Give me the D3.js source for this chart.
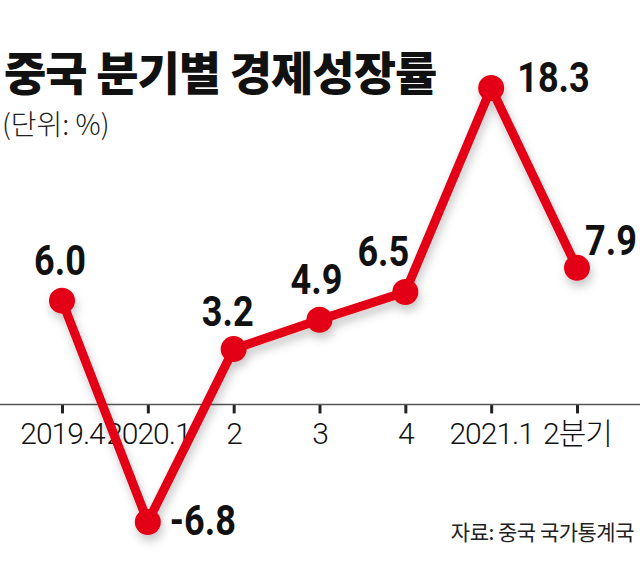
<!DOCTYPE html>
<html>
<head>
<meta charset="utf-8">
<script src="https://cdn.jsdelivr.net/npm/d3@7.9.0/dist/d3.min.js"></script>
<style>
  html, body { margin: 0; padding: 0; background: #fff; }
  svg { display: block; font-family: "Noto Sans CJK KR", "Noto Sans", sans-serif; }
  .tick text { font-family: Roboto, "Noto Sans CJK KR", sans-serif; }
  .vlabel text { font-family: Roboto, "Noto Sans", sans-serif; }
</style>
</head>
<body>
<svg id="chart" width="640" height="583"></svg>
<script>
const quarters = ['2019.4', '2020.1', '2', '3', '4', '2021.1', '2분기'];
const growth = [6.0, -6.8, 3.2, 4.9, 6.5, 18.3, 7.9];
const valueLabels = ['6.0', '-6.8', '3.2', '4.9', '6.5', '18.3', '7.9'];

// where each value label sits relative to its point: [dx, dy, anchor]
const labelPlace = [
  [-2, -26, 'middle'],
  [22, 13, 'start'],
  [-6, -23, 'middle'],
  [-3, -26, 'middle'],
  [-22, -26, 'middle'],
  [26, 4, 'start'],
  [8, -13, 'start']
];

const red = '#e30613';
const svg = d3.select('#chart');

const x = d3.scalePoint().domain(quarters).range([62, 577]);
const y = d3.scaleLinear().domain([-6.8, 18.3]).range([522, 88]);

const defs = svg.append('defs');
const shadow = defs.append('filter')
  .attr('id', 'shadow')
  .attr('x', '-20%').attr('y', '-20%')
  .attr('width', '140%').attr('height', '140%');
shadow.append('feDropShadow')
  .attr('dx', 2).attr('dy', 6)
  .attr('stdDeviation', 5)
  .attr('flood-color', '#000')
  .attr('flood-opacity', 0.22);

// title
svg.append('text')
  .attr('x', 4).attr('y', 90)
  .attr('font-size', 46)
  .attr('font-weight', 900)
  .attr('letter-spacing', -1)
  .attr('fill', '#111')
  .text('중국 분기별 경제성장률');

svg.append('text')
  .attr('x', 2).attr('y', 135)
  .attr('font-size', 28)
  .attr('font-weight', 300)
  .attr('fill', '#222')
  .text('(단위: %)');

// axis
const axis = d3.axisBottom(x).tickSize(9).tickPadding(9);
const gx = svg.append('g')
  .attr('transform', `translate(0,${y(0)})`)
  .call(axis)
  .attr('font-family', null);
gx.select('.domain').remove();
gx.selectAll('.tick line').attr('stroke', '#222').attr('stroke-width', 3);
gx.selectAll('.tick text')
  .attr('font-size', 30)
  .attr('font-weight', 300)
  .attr('letter-spacing', -1)
  .attr('fill', '#111');

svg.append('line')
  .attr('x1', 0).attr('x2', 640)
  .attr('y1', y(0)).attr('y2', y(0))
  .attr('stroke', '#555')
  .attr('stroke-width', 1.5);

// line + dots
const series = growth.map((v, i) => ({ q: quarters[i], v, label: valueLabels[i], place: labelPlace[i] }));

const line = d3.line().x((d) => x(d.q)).y((d) => y(d.v));

const marks = svg.append('g').attr('filter', 'url(#shadow)');
marks.append('path')
  .datum(series)
  .attr('d', line)
  .attr('fill', 'none')
  .attr('stroke', red)
  .attr('stroke-width', 9)
  .attr('stroke-linejoin', 'round');

marks.selectAll('circle')
  .data(series)
  .join('circle')
  .attr('cx', (d) => x(d.q))
  .attr('cy', (d) => y(d.v))
  .attr('r', 13)
  .attr('fill', red);

// value labels
svg.selectAll('g.vlabel')
  .data(series)
  .join('g')
  .attr('class', 'vlabel')
  .attr('transform', (d) => `translate(${x(d.q) + d.place[0]},${y(d.v) + d.place[1]}) scale(0.86,1)`)
  .append('text')
  .attr('text-anchor', (d) => d.place[2])
  .attr('font-size', 42)
  .attr('font-weight', 700)
  .attr('fill', '#111')
  .text((d) => d.label);

// source
svg.append('text')
  .attr('x', 634).attr('y', 540)
  .attr('text-anchor', 'end')
  .attr('font-size', 21)
  .attr('font-weight', 400)
  .attr('letter-spacing', -0.5)
  .attr('fill', '#222')
  .text('자료: 중국 국가통계국');
</script>
</body>
</html>
